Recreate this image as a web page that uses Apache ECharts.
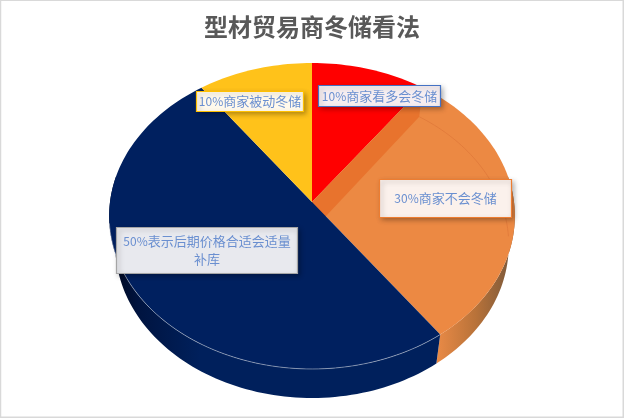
<!DOCTYPE html>
<html><head><meta charset="utf-8">
<style>html,body{margin:0;padding:0;background:#fff}#c{width:624px;height:418px}</style>
<script src="https://cdn.jsdelivr.net/npm/echarts@6/dist/echarts.min.js"></script>
</head><body><div id="c"></div>
<script>
const categories = ['10%商家看多会冬储','30%商家不会冬储','50%表示后期价格合适会适量\n补库','10%商家被动冬储'];
const seriesValues = [10,30,50,10];
const total = seriesValues.reduce((a,b)=>a+b,0);
const apex=[312,202], A=202, B=151.7, K=0.0915, DROP=29, SHRINK=0.97;
const sliceColors=['#FF0000','#EC8943','#00205F','#FFC21A'];
const boxes=[
 {x:318.5,y:85.5,w:122,h:21,border:'#4472C4',fill:'#F6EEF1'},
 {x:379.5,y:179.5,w:132,h:38,border:'#ED7D31',fill:'#FBF1EC'},
 {x:116.5,y:227.5,w:181,h:46,border:'#A5A5A5',fill:'#E8E9EE'},
 {x:196.5,y:91.5,w:107,h:20,border:'#FFC000',fill:'#FFF9EC'}
];
function rim(deg,low){
  const t=deg*Math.PI/180,u=Math.sin(t),v=-Math.cos(t),d=1-K*v;
  const X=A*u/d,Y=B*v/d;
  return low?[apex[0]+X*SHRINK,apex[1]+Y+DROP]:[apex[0]+X,apex[1]+Y];
}
function arc(a,b,low){const n=Math.max(2,Math.ceil(Math.abs(b-a)/1.5)),p=[];
  for(let i=0;i<=n;i++)p.push(rim(a+(b-a)*i/n,low));return p;}
function startOf(i){let s=0;for(let k=0;k<i;k++)s+=seriesValues[k];return s/total*360;}
function grad(x0,x1,stops){return {type:'linear',x:x0,y:0,x2:x1,y2:0,global:true,
  colorStops:stops.map(s=>({offset:s[0],color:s[1]}))};}
function wall(a,b,fill){return {type:'polygon',shape:{points:arc(a,b,false).concat(arc(b,a,true))},style:{fill}};}
function renderSlice(params,api){
  const i=params.dataIndex,a=startOf(i),b=a+api.value(0)/total*360,ch=[];
  if(i===1){
    ch.push(wall(80,b,grad(437,515,[[0,'#E98A46'],[0.5,'#B87239'],[1,'#75563A']])));
  }
  if(i===2){
    ch.push(wall(a,280,grad(112,200,[[0,'#00081F'],[0.3,'#001440'],[1,'#00205C']])));
  }
  ch.push({type:'polygon',shape:{points:[apex].concat(arc(a,b,false))},style:{fill:sliceColors[i]}});
  if(i===1){
    const P=rim(a,false),Q=rim(a,true);
    ch.push({type:'polyline',shape:{points:arc(a,92,true)},style:{fill:null,stroke:'#E0793A',lineWidth:0.8}});
    ch.push({type:'polygon',shape:{points:[apex,P,Q,[apex[0],apex[1]+DROP]]},style:{fill:'#E8732D'}});
  }
  if(i===2){
    ch.push({type:'polyline',shape:{points:arc(a,262,false)},style:{fill:null,stroke:'rgba(205,210,220,0.65)',lineWidth:0.8}});
  }
  return {type:'group',children:ch};
}
function renderLabel(params,api){
  const i=params.dataIndex,b=boxes[i];
  return {type:'group',children:[
    {type:'rect',shape:{x:b.x,y:b.y,width:b.w,height:b.h},
     style:{fill:b.fill,stroke:b.border,lineWidth:1.2,shadowBlur:5,shadowOffsetX:2,shadowOffsetY:2,shadowColor:'rgba(0,0,0,0.3)'}},
    {type:'text',x:b.x+b.w/2,y:b.y+b.h/2,
     style:{text:categories[i].replace(/^(\d+%)/,'{p|$1}'),fill:'#6A8FD0',font:'13px "Noto Sans CJK SC"',align:'center',verticalAlign:'middle',lineHeight:18,
       rich:{p:{font:'12px "Noto Sans CJK SC"',fill:'#6A8FD0',lineHeight:18}}}}
  ]};
}
const chart=echarts.init(document.getElementById('c'),null,{renderer:'canvas'});
const rows=seriesValues.map((v,i)=>({value:[v],name:categories[i]}));
chart.setOption({
  animation:false,
  backgroundColor:'#fff',
  title:{text:'型材贸易商冬储看法',left:'center',top:10,
    textStyle:{color:'#595959',fontSize:24,fontWeight:'bold',fontFamily:'"Noto Sans CJK SC"'}},
  graphic:[{type:'rect',silent:true,z:10,shape:{x:0.5,y:0.25,width:622.75,height:417},
    style:{fill:null,stroke:'#D9D9D9',lineWidth:1.5}}],
  series:[
    {type:'custom',coordinateSystem:'none',renderItem:renderSlice,data:rows,silent:true,z:2},
    {type:'custom',coordinateSystem:'none',renderItem:renderLabel,data:rows,silent:true,z:3}
  ]
});
</script></body></html>
